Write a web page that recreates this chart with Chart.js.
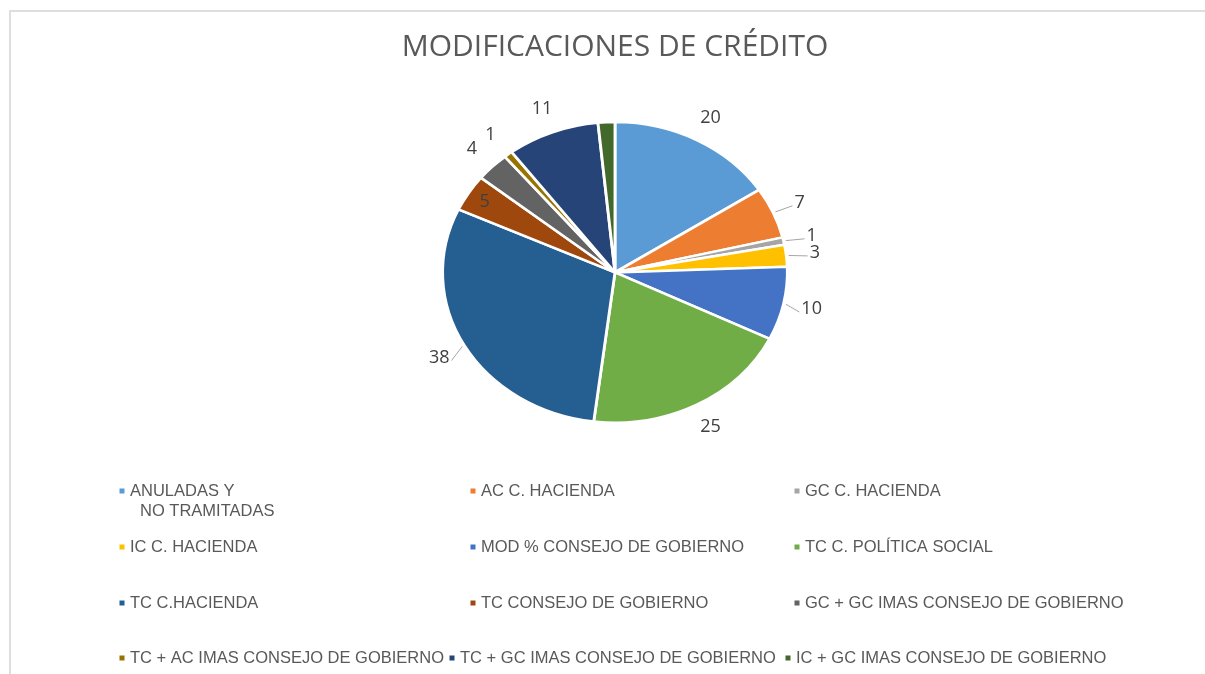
<!DOCTYPE html>
<html><head><meta charset="utf-8">
<script src="https://cdn.jsdelivr.net/npm/chart.js@4.4.1/dist/chart.umd.min.js"></script>
<style>
html,body{margin:0;padding:0;background:#fff;}
#wrap{position:relative;width:1205px;height:674px;overflow:hidden;background:#fff;}
#frame{position:absolute;left:9px;top:10px;width:1300px;height:700px;border-top:2px solid #dedede;border-left:2px solid #dedede;}
canvas{position:absolute;left:0;top:0;}
</style></head><body>
<div id="wrap"><div id="frame"></div><canvas id="c" width="1205" height="674"></canvas></div>
<script>
// ---- data ----
const titleText = 'MODIFICACIONES DE CRÉDITO';
const categories = [
  ['ANULADAS Y', 'NO TRAMITADAS'],
  'AC C. HACIENDA',
  'GC C. HACIENDA',
  'IC C. HACIENDA',
  'MOD % CONSEJO DE GOBIERNO',
  'TC C. POLÍTICA SOCIAL',
  'TC C.HACIENDA',
  'TC CONSEJO DE GOBIERNO',
  'GC + GC IMAS CONSEJO DE GOBIERNO',
  'TC + AC IMAS CONSEJO DE GOBIERNO',
  'TC + GC IMAS CONSEJO DE GOBIERNO',
  'IC + GC IMAS CONSEJO DE GOBIERNO'
];
const values = [20, 7, 1, 3, 10, 25, 38, 5, 4, 1, 11, 2];

// ---- style ----
const colors = ['#5B9BD5','#ED7D31','#A5A5A5','#FFC000','#4472C4','#70AD47',
                '#255E91','#9E480E','#636363','#997300','#264478','#43682B'];
const SX = 172 / 150; // horizontal stretch of the pie (reference pie is elliptical)

const ellipsePlugin = {
  id: 'ellipse',
  beforeDatasetsDraw(chart) {
    const a = chart.getDatasetMeta(0).data[0];
    const ctx = chart.ctx;
    ctx.save();
    ctx.translate(a.x, a.y);
    ctx.scale(SX, 1);
    ctx.translate(-a.x, -a.y);
  },
  afterDatasetsDraw(chart) { chart.ctx.restore(); }
};

const labelPlugin = {
  id: 'sliceLabels',
  afterDraw(chart, args, o) {
    const ctx = chart.ctx;
    const meta = chart.getDatasetMeta(0);
    const ds = chart.data.datasets[0];
    ctx.save();
    ctx.font = o.font;
    ctx.fillStyle = o.color;
    ctx.textAlign = 'center';
    ctx.textBaseline = 'middle';
    meta.data.forEach((arc, i) => {
      if (o.hidden.includes(i)) return;
      const p = arc.getProps(['x', 'y', 'startAngle', 'endAngle', 'outerRadius']);
      const mid = (p.startAngle + p.endAngle) / 2;
      const inside = o.inside.includes(i);
      const r = inside ? p.outerRadius * 0.89 : p.outerRadius + o.offset;
      const lx = p.x + Math.cos(mid) * r * SX;
      const ly = p.y + Math.sin(mid) * r;
      const txt = String(ds.data[i]);
      if (o.leaders.includes(i)) {
        const ex = p.x + Math.cos(mid) * (p.outerRadius + 2) * SX;
        const ey = p.y + Math.sin(mid) * (p.outerRadius + 2);
        const w = ctx.measureText(txt).width;
        const tx = lx - Math.sign(Math.cos(mid)) * (w / 2 + 2);
        ctx.strokeStyle = '#a6a6a6';
        ctx.lineWidth = 1;
        ctx.beginPath();
        ctx.moveTo(ex, ey);
        ctx.lineTo(tx, ly + 3);
        ctx.stroke();
      }
      ctx.fillText(txt, lx, ly);
    });
    ctx.restore();
  }
};

const legendPlugin = {
  id: 'gridLegend',
  afterDraw(chart, args, o) {
    const ctx = chart.ctx;
    const labels = chart.data.labels;
    const bg = chart.data.datasets[0].backgroundColor;
    ctx.save();
    ctx.font = o.font;
    ctx.textBaseline = 'middle';
    ctx.textAlign = 'left';
    labels.forEach((lab, i) => {
      const row = Math.floor(i / o.cols), col = i % o.cols;
      const colX = (o.rowColX[row] || o.rowColX[0])[col];
      const y = o.rowY[row];
      ctx.fillStyle = bg[i];
      ctx.fillRect(colX - o.box / 2, y - o.box / 2, o.box, o.box);
      ctx.fillStyle = o.color;
      const lines = Array.isArray(lab) ? lab : [lab];
      lines.forEach((t, k) => ctx.fillText(t, colX + o.textGap + (k ? o.indent : 0), y + k * o.lineGap));
    });
    ctx.restore();
  }
};

new Chart(document.getElementById('c'), {
  type: 'pie',
  data: {
    labels: categories,
    datasets: [{ data: values, backgroundColor: colors, borderColor: '#ffffff', borderWidth: 2.5 }]
  },
  options: {
    responsive: false,
    animation: false,
    events: [],
    layout: { padding: { top: 10, left: 300, right: 275, bottom: 250 } },
    plugins: {
      legend: { display: false },
      tooltip: { enabled: false },
      title: {
        display: true, text: titleText, color: '#595959',
        font: { family: 'Open Sans', size: 30, weight: 'normal' },
        padding: { top: 19, bottom: 55.8 }
      },
      sliceLabels: {
        font: '18px "Open Sans"', color: '#404040', offset: 25,
        leaders: [1, 2, 3, 4, 6], inside: [7], hidden: [11]
      },
      gridLegend: {
        font: '16.5px "Liberation Sans"', color: '#595959', cols: 3, box: 5,
        textGap: 8, indent: 10, lineGap: 20,
        rowY: [491, 547, 603, 658],
        rowColX: [[122, 473, 797], [122, 473, 797], [122, 473, 797], [122, 452, 788]]
      }
    }
  },
  plugins: [ellipsePlugin, labelPlugin, legendPlugin]
});
</script>
</body></html>
